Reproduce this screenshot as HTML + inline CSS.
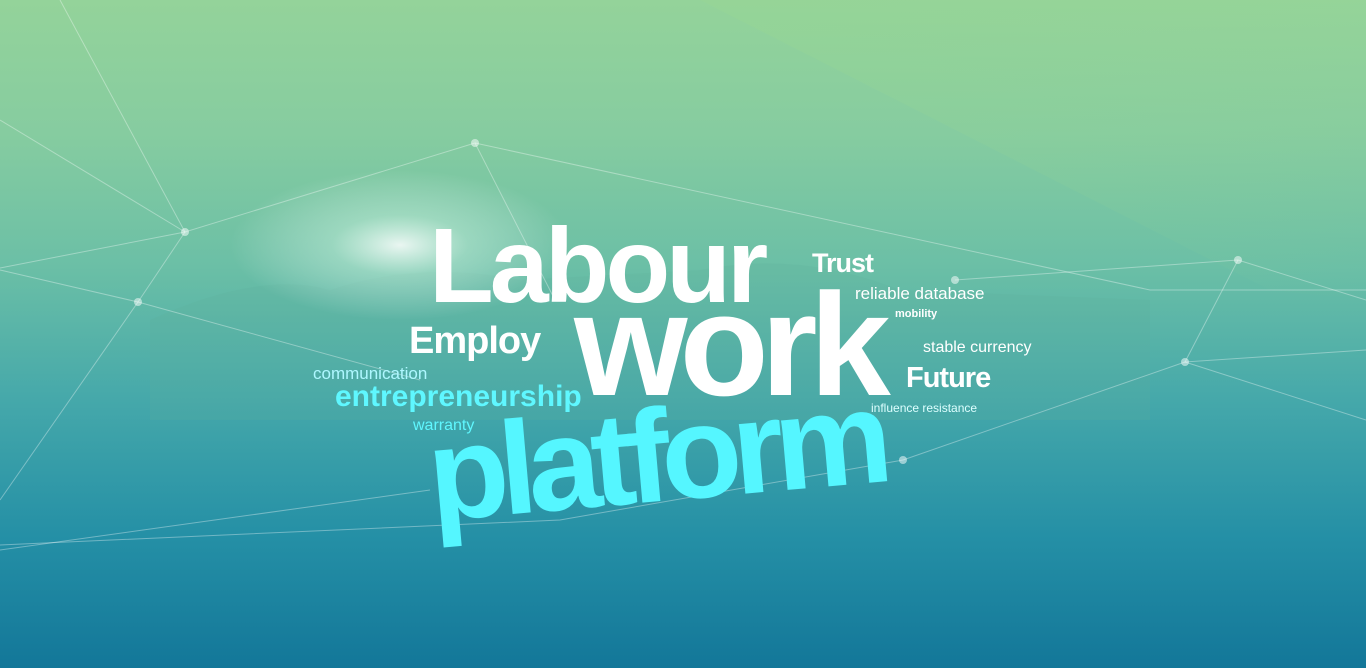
<!DOCTYPE html>
<html><head><meta charset="utf-8"><style>
html,body{margin:0;padding:0}
#hero{position:relative;width:1366px;height:668px;overflow:hidden;
background:linear-gradient(180deg,#94d39a 0%,#86cca0 20%,#6bbfa6 40%,#45a8aa 60%,#2590a6 80%,#137799 100%);
font-family:"Liberation Sans",Arial,sans-serif;}
.w{position:absolute;white-space:nowrap;font-weight:bold;line-height:1;transform-origin:left top}
svg{position:absolute;left:0;top:0}
</style></head><body>
<div id="hero">
<svg width="1366" height="668">
<defs>
<radialGradient id="glow" cx="0.5" cy="0.5" r="0.5">
<stop offset="0" stop-color="#ffffff" stop-opacity="0.85"/>
<stop offset="0.4" stop-color="#e8fff0" stop-opacity="0.35"/>
<stop offset="1" stop-color="#ffffff" stop-opacity="0"/>
</radialGradient>
<linearGradient id="tr" x1="0" y1="0" x2="1" y2="1">
<stop offset="0" stop-color="#9ad890" stop-opacity="0.3"/>
<stop offset="1" stop-color="#9ad890" stop-opacity="0"/>
</linearGradient>
</defs>
<polygon points="700,0 1366,0 1366,300 1270,290" fill="url(#tr)"/>
<path d="M150,320 Q260,270 330,290 Q420,260 520,280 L700,270 Q800,250 900,290 L1150,300 L1150,420 L150,420 Z" fill="#5fae9a" opacity="0.2"/>
<ellipse cx="400" cy="245" rx="170" ry="75" fill="url(#glow)"/>
<g stroke="#ffffff" stroke-opacity="0.35" stroke-width="1" fill="none">
<polyline points="0,120 185,232 475,143 555,300"/>
<polyline points="60,0 185,232 0,268"/>
<polyline points="185,232 138,302 0,500"/>
<polyline points="0,270 138,302 420,380"/>
<polyline points="475,143 1150,290 1366,290"/>
<polyline points="955,280 1238,260 1366,300"/>
<polyline points="1238,260 1185,362 1366,350"/>
<polyline points="1185,362 903,460 560,520 0,545"/>
<polyline points="1185,362 1366,420"/>
<polyline points="0,550 430,490"/>
</g>
<g fill="#ffffff" fill-opacity="0.5">
<circle cx="185" cy="232" r="4"/><circle cx="475" cy="143" r="4"/><circle cx="138" cy="302" r="4"/>
<circle cx="955" cy="280" r="4"/><circle cx="1238" cy="260" r="4"/><circle cx="1185" cy="362" r="4"/><circle cx="903" cy="460" r="4"/>
</g>
</svg>
<div class="w" style="left:429px;top:213px;font-size:106px;color:#fff;letter-spacing:-4px">Labour</div>
<div class="w" style="left:574px;top:272px;font-size:146px;color:#fff;letter-spacing:-8px">work</div>
<div class="w" style="left:432px;top:410px;font-size:132px;color:#55f6ff;letter-spacing:-9px;transform-origin:0 110px;transform:rotate(-5deg)">platform</div>
<div class="w" style="left:409px;top:322px;font-size:38px;color:#fff;letter-spacing:-1px">Employ</div>
<div class="w" style="left:313px;top:365px;font-size:17px;color:#aef7ff;font-weight:normal">communication</div>
<div class="w" style="left:335px;top:382px;font-size:30px;color:#5ff7ff;letter-spacing:0px">entrepreneurship</div>
<div class="w" style="left:413px;top:418px;font-size:16px;color:#5ff7ff;font-weight:normal">warranty</div>
<div class="w" style="left:812px;top:250px;font-size:27px;color:#fff;letter-spacing:-1px">Trust</div>
<div class="w" style="left:855px;top:285px;font-size:17px;color:#fff;font-weight:normal">reliable database</div>
<div class="w" style="left:895px;top:309px;font-size:11px;color:#fff">mobility</div>
<div class="w" style="left:923px;top:340px;font-size:16px;color:#fff;font-weight:normal">stable currency</div>
<div class="w" style="left:906px;top:364px;font-size:29px;color:#fff;letter-spacing:-1px">Future</div>
<div class="w" style="left:871px;top:402px;font-size:12px;color:#dff;font-weight:normal">influence resistance</div>
</div>
</body></html>
